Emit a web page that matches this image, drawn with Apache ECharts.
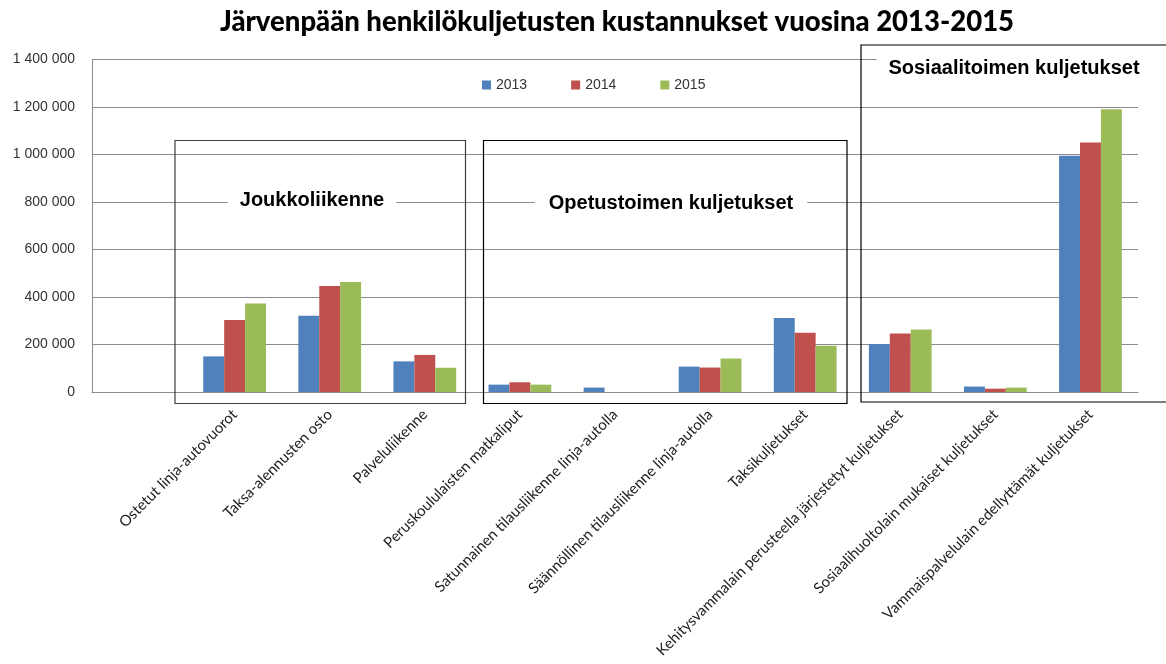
<!DOCTYPE html>
<html>
<head>
<meta charset="utf-8">
<script src="https://cdn.jsdelivr.net/npm/echarts@6/dist/echarts.min.js"></script>
<style>
  html, body { margin: 0; padding: 0; background: #fff; }
  #chart { width: 1166px; height: 664px; }
</style>
</head>
<body>
<div id="chart"></div>
<script>
// kategoriat (ensimmäinen paikka on tyhjä kuten alkuperäisessä)
var categories = [
    '',
    'Ostetut linja-autovuorot',
    'Taksa-alennusten osto',
    'Palveluliikenne',
    'Peruskoululaisten matkaliput',
    'Satunnainen tilausliikenne linja-autolla',
    'Säännöllinen tilausliikenne linja-autolla',
    'Taksikuljetukset',
    'Kehitysvammalain perusteella järjestetyt kuljetukset',
    'Sosiaalihuoltolain mukaiset kuljetukset',
    'Vammaispalvelulain edellyttämät kuljetukset'
];

var years = ['2013', '2014', '2015'];

// kustannukset euroina
var costs2013 = [null, 150000, 321000, 129000, 31000, 18500, 107000, 312000, 202000, 23000, 995000];
var costs2014 = [null, 303000, 446000, 156000, 41000, 0, 103000, 250000, 246000, 14000, 1051000];
var costs2015 = [null, 373000, 463000, 102000, 31000, 0, 141000, 195000, 263000, 18500, 1191000];

var yTicks = { min: 0, max: 1400000, interval: 200000 };

var colors = ['#4F81BD', '#C0504D', '#9BBB59'];

var chart = echarts.init(document.getElementById('chart'), null, { renderer: 'canvas' });

// tuhaterotin välilyönnillä
function fmt(v) {
    return String(v).replace(/\B(?=(\d{3})+(?!\d))/g, ' ');
}

function makeSeries(name, data, color) {
    return {
        name: name,
        type: 'bar',
        data: data,
        barGap: '0%',
        barCategoryGap: '34%',
        itemStyle: { color: color },
        emphasis: { disabled: true }
    };
}

// ryhmien laatikot ja otsikot
function groupBox(x, y, w, h, color) {
    return {
        type: 'rect',
        z: 100,
        shape: { x: x, y: y, width: w, height: h },
        style: { fill: 'none', stroke: color, lineWidth: 1.2 }
    };
}

function groupLabel(text, x, y, padX) {
    return {
        type: 'text',
        z: 101,
        x: x,
        y: y,
        style: {
            text: text,
            font: 'bold 20px "Liberation Sans", Arial, sans-serif',
            fill: '#000',
            align: 'center',
            verticalAlign: 'middle',
            backgroundColor: '#fff',
            padding: [7, padX]
        }
    };
}

var option = {
    animation: false,
    backgroundColor: '#fff',
    color: colors,
    title: {
        text: 'Järvenpään henkilökuljetusten kustannukset vuosina 2013-2015',
        left: 215,
        top: 3,
        textStyle: {
            fontFamily: 'Lato, "Open Sans", sans-serif',
            fontWeight: 900,
            fontSize: 27.5,
            color: '#000'
        }
    },
    legend: {
        data: years,
        left: 477,
        top: 73,
        itemWidth: 9,
        itemHeight: 9,
        itemGap: 44,
        icon: 'rect',
        textStyle: {
            fontFamily: '"Liberation Sans", Arial, sans-serif',
            fontSize: 14,
            color: '#333'
        }
    },
    grid: {
        left: 92,
        right: 28,
        top: 59.5,
        bottom: 272,
        containLabel: false
    },
    xAxis: {
        type: 'category',
        data: categories,
        axisLine: { lineStyle: { color: '#8c8c8c' } },
        axisTick: { show: false },
        axisLabel: {
            interval: 0,
            rotate: 45,
            margin: 20,
            fontFamily: 'Lato, "Open Sans", sans-serif',
            fontSize: 15,
            color: '#222'
        }
    },
    yAxis: {
        type: 'value',
        min: yTicks.min,
        max: yTicks.max,
        interval: yTicks.interval,
        axisLine: { show: true, lineStyle: { color: '#8c8c8c' } },
        axisTick: { show: false },
        splitLine: { lineStyle: { color: '#8c8c8c' } },
        axisLabel: {
            formatter: fmt,
            margin: 17,
            fontFamily: '"Liberation Sans", Arial, sans-serif',
            fontSize: 14,
            color: '#333'
        }
    },
    series: [
        makeSeries(years[0], costs2013, colors[0]),
        makeSeries(years[1], costs2014, colors[1]),
        makeSeries(years[2], costs2015, colors[2])
    ],
    graphic: [
        groupBox(175, 140.5, 290.5, 263, '#404040'),
        groupBox(483.5, 140.5, 363.5, 263, '#000'),
        groupBox(861, 45, 320, 357, '#000'),
        groupLabel('Joukkoliikenne', 312, 200, 12),
        groupLabel('Opetustoimen kuljetukset', 671, 203, 14),
        {
            type: 'rect',
            z: 100,
            shape: { x: 877, y: 50, width: 280, height: 36 },
            style: { fill: '#fff' }
        },
        {
            type: 'text',
            z: 101,
            x: 1014,
            y: 68,
            style: {
                text: 'Sosiaalitoimen kuljetukset',
                font: 'bold 20px "Liberation Sans", Arial, sans-serif',
                fill: '#000',
                align: 'center',
                verticalAlign: 'middle'
            }
        }
    ]
};

chart.setOption(option);
</script>
</body>
</html>
